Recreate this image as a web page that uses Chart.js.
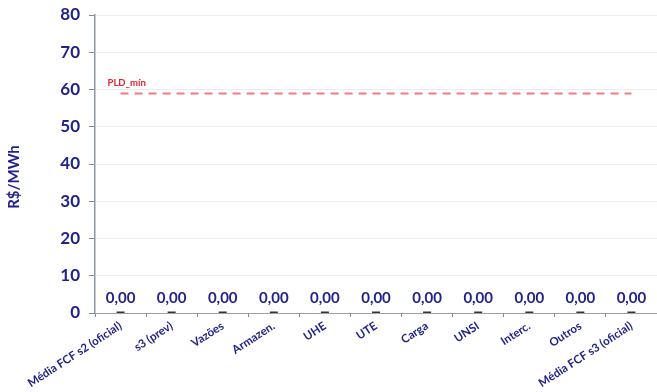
<!DOCTYPE html>
<html>
<head>
<meta charset="utf-8">
<script src="https://cdn.jsdelivr.net/npm/chart.js@4/dist/chart.umd.min.js"></script>
<style>
  html, body { margin: 0; padding: 0; background: #fff; }
  #wrap { width: 657px; height: 392px; position: relative; }
</style>
</head>
<body>
<div id="wrap"><canvas id="c" width="657" height="392"></canvas></div>
<script>
// Categories on the x axis
const categories = [
  'Média FCF s2 (oficial)', 's3 (prev)', 'Vazões', 'Armazen.', 'UHE', 'UTE',
  'Carga', 'UNSI', 'Interc.', 'Outros', 'Média FCF s3 (oficial)'
];
// Price variation per factor (R$/MWh)
const values = [0, 0, 0, 0, 0, 0, 0, 0, 0, 0, 0];
// Minimum PLD reference level (R$/MWh)
const pldMin = 58.9;
const pldLabel = 'PLD_mín';
// Y axis range and title
const yMin = 0, yMax = 80, yStep = 10;
const yTitle = 'R$/MWh';

const navy = '#22228C';
const fontFamily = 'Lato, "Open Sans", sans-serif';

// Value labels above each mark, the PLD label and the y axis title
const labelPlugin = {
  id: 'labels',
  afterDatasetsDraw(chart) {
    const ctx = chart.ctx;
    ctx.save();
    const meta = chart.getDatasetMeta(1);
    ctx.font = 'bold 15px ' + fontFamily;
    ctx.fillStyle = navy;
    ctx.textAlign = 'center';
    ctx.textBaseline = 'middle';
    meta.data.forEach((pt, i) => {
      const txt = values[i].toFixed(2).replace('.', ',');
      ctx.fillText(txt, pt.x, pt.y - 15);
    });
    const lineMeta = chart.getDatasetMeta(0);
    const first = lineMeta.data[0];
    ctx.font = 'bold 9.5px ' + fontFamily;
    ctx.fillStyle = '#E8202A';
    ctx.textAlign = 'left';
    ctx.fillText(pldLabel, first.x - 13, first.y - 11);

    // rotated axis title, sitting a little below the axis middle
    const area = chart.chartArea;
    ctx.translate(14, (area.top + area.bottom) / 2 + 13);
    ctx.rotate(-Math.PI / 2);
    ctx.font = 'bold 15px ' + fontFamily;
    ctx.fillStyle = navy;
    ctx.textAlign = 'center';
    ctx.fillText(yTitle, 0, 0);
    ctx.restore();
  }
};

new Chart(document.getElementById('c'), {
  type: 'line',
  data: {
    labels: categories,
    datasets: [
      {
        label: pldLabel,
        data: categories.map(() => pldMin),
        borderColor: '#F07A80',
        borderWidth: 2,
        borderDash: [8, 6],
        pointRadius: 0,
        fill: false
      },
      {
        label: 'Variação',
        data: values,
        showLine: false,
        pointStyle: 'line',
        pointRadius: 4,
        borderColor: '#333333',
        backgroundColor: '#333333',
        pointBorderWidth: 3
      }
    ]
  },
  options: {
    responsive: false,
    animation: false,
    layout: { autoPadding: false, padding: { top: 15, right: 0, left: 0, bottom: 0 } },
    plugins: { legend: { display: false }, tooltip: { enabled: false } },
    scales: {
      x: {
        offset: true,
        grid: {
          offset: true,
          drawOnChartArea: false,
          tickLength: 4,
          tickColor: '#888888'
        },
        border: { color: '#A0A0A0', width: 1 },
        ticks: {
          autoSkip: false,
          minRotation: 33,
          maxRotation: 33,
          padding: 2,
          color: navy,
          font: { family: fontFamily, weight: 'bold', size: 11.5 }
        },
        afterFit(scale) {
          scale.height = 79;
          scale.paddingLeft = 0;
          scale.paddingRight = 0;
        }
      },
      y: {
        min: yMin,
        max: yMax,
        ticks: {
          stepSize: yStep,
          color: navy,
          padding: 9,
          font: { family: fontFamily, weight: 'bold', size: 17 }
        },
        grid: { color: '#EDEDED', tickColor: '#7F889C', tickLength: 6 },
        border: { color: '#8C96AA', width: 1.5 },
        afterFit(scale) {
          scale.width = 95;
          scale.paddingTop = 0;
          scale.paddingBottom = 0;
        }
      }
    }
  },
  plugins: [labelPlugin]
});
</script>
</body>
</html>
